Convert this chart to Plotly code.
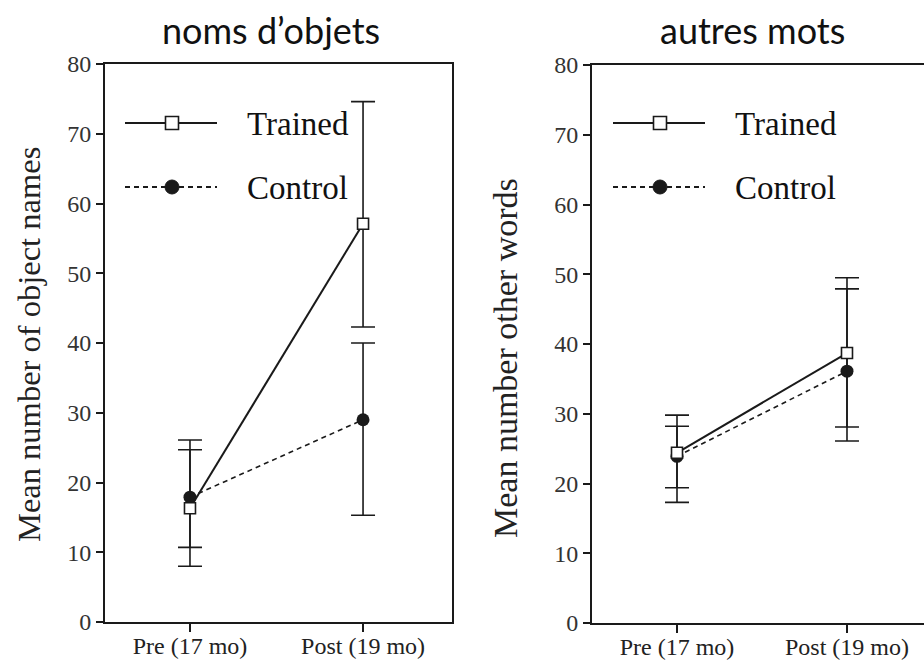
import plotly.graph_objects as go

# Session labels
sessions = ["Pre (17 mo)", "Post (19 mo)"]

# Object names: group means and error bar extents (above / below the mean)
obj_trained = [16.3, 57.1]
obj_trained_up = [8.4, 17.5]
obj_trained_down = [8.3, 14.8]
obj_control = [17.9, 29.0]
obj_control_up = [8.2, 11.0]
obj_control_down = [7.2, 13.7]

# Other words: group means and error bar extents
oth_trained = [24.4, 38.7]
oth_trained_up = [5.4, 10.8]
oth_trained_down = [5.0, 10.6]
oth_control = [23.9, 36.1]
oth_control_up = [4.3, 11.8]
oth_control_down = [6.6, 10.0]

y_ticks = [0, 10, 20, 30, 40, 50, 60, 70, 80]

W, H = 924, 662
SERIF = "Liberation Serif"
INK = "#1a1a1a"
DASH = "5px,4px"


def px(x):
    return x / W


def py(y):
    return 1 - y / H


fig = go.Figure()

panels = [
    ("x", "y", obj_trained, obj_trained_up, obj_trained_down,
     obj_control, obj_control_up, obj_control_down),
    ("x2", "y2", oth_trained, oth_trained_up, oth_trained_down,
     oth_control, oth_control_up, oth_control_down),
]

for xa, ya, tr, tru, trd, co, cou, cod in panels:
    fig.add_trace(go.Scatter(
        x=[0, 1], y=co, xaxis=xa, yaxis=ya, mode="lines+markers",
        line=dict(color=INK, width=1.6, dash=DASH),
        marker=dict(symbol="circle", size=13, color=INK),
        error_y=dict(type="data", symmetric=False, array=cou, arrayminus=cod,
                     color=INK, thickness=1.6, width=12),
        showlegend=False, cliponaxis=False,
    ))
    fig.add_trace(go.Scatter(
        x=[0, 1], y=tr, xaxis=xa, yaxis=ya, mode="lines+markers",
        line=dict(color=INK, width=2),
        marker=dict(symbol="square", size=11, color="white",
                    line=dict(color=INK, width=1.6)),
        error_y=dict(type="data", symmetric=False, array=tru, arrayminus=trd,
                     color=INK, thickness=1.6, width=12),
        showlegend=False, cliponaxis=False,
    ))

x_common = dict(
    tickmode="array", tickvals=[0, 1], ticktext=sessions, automargin=False,
    ticks="outside", ticklen=8, tickwidth=1.5, tickcolor=INK,
    ticklabelstandoff=-7,
    showline=True, linewidth=2, linecolor=INK, showgrid=False, zeroline=False,
    tickfont=dict(family=SERIF, size=24, color="#222"),
)
y_common = dict(
    range=[0, 80], tickmode="array", tickvals=y_ticks, automargin=False,
    ticks="outside", ticklen=7, tickwidth=1.5, tickcolor=INK,
    showline=True, linewidth=2, linecolor=INK, showgrid=False, zeroline=False,
    tickfont=dict(family=SERIF, size=24, color="#333"),
)

fig.update_layout(
    width=W, height=H, margin=dict(l=0, r=0, t=0, b=0),
    paper_bgcolor="white", plot_bgcolor="white",
    xaxis=dict(domain=[px(105), px(452)], range=[-0.491, 1.514],
               mirror=True, anchor="y", **x_common),
    yaxis=dict(domain=[py(622), py(64)], mirror=True, anchor="x", **y_common),
    xaxis2=dict(domain=[px(592), 1.0], range=[-0.5, 1.453],
                mirror=True, anchor="y2", **x_common),
    yaxis2=dict(domain=[py(623), py(65)], mirror=False, anchor="x2", **y_common),
)


def note(text, x, y, size, family, angle=0, xanchor="center", color="#222"):
    return dict(text=text, x=px(x), y=py(y), xref="paper", yref="paper",
                xanchor=xanchor, yanchor="middle", showarrow=False,
                textangle=angle, font=dict(family=family, size=size, color=color))


annotations = [
    note("noms d\u2019objets", 271, 30, 36, "Lato", color="#111"),
    note("autres mots", 752, 30, 36, "Lato", color="#111"),
    note("Mean number of object names", 29, 345, 32.5, SERIF, angle=-90),
    note("Mean number other words", 505, 358, 34, SERIF, angle=-90),
]

shapes = []
# In-panel legends: sample line with centred marker, then the label
for x0, x1, xm, xt in [(125, 217, 172, 245), (613, 705, 660, 733)]:
    for yy, label, dash, marker in [(123, "Trained", "solid", "square"),
                                     (187, "Control", DASH, "circle")]:
        shapes.append(dict(type="line", xref="paper", yref="paper",
                           x0=px(x0), x1=px(x1), y0=py(yy), y1=py(yy),
                           line=dict(color=INK, width=1.8, dash=dash)))
        if marker == "square":
            shapes.append(dict(type="rect", xref="paper", yref="paper",
                               x0=px(xm - 6.5), x1=px(xm + 6.5),
                               y0=py(yy + 6.5), y1=py(yy - 6.5),
                               fillcolor="white", line=dict(color=INK, width=1.6)))
        else:
            shapes.append(dict(type="circle", xref="paper", yref="paper",
                               x0=px(xm - 7), x1=px(xm + 7),
                               y0=py(yy + 7), y1=py(yy - 7),
                               fillcolor=INK, line=dict(color=INK, width=1)))
        annotations.append(note(label, xt, yy + 1, 33, SERIF, xanchor="left",
                                color="#111"))

fig.update_layout(annotations=annotations, shapes=shapes)

fig.write_html("out.html")
